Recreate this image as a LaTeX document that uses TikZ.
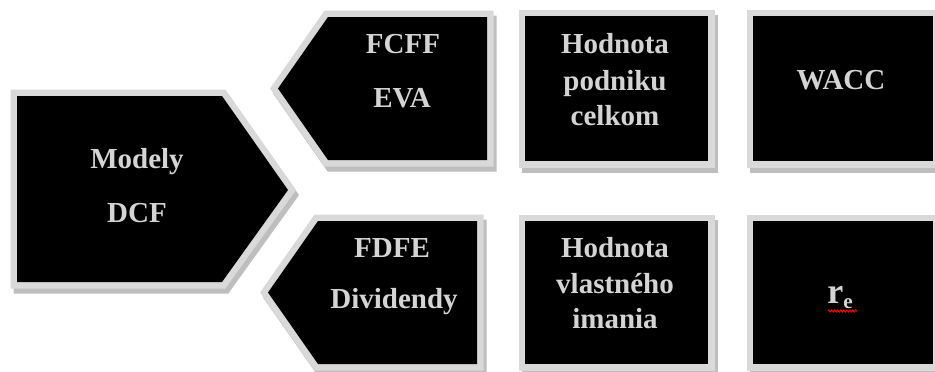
\documentclass[tikz,border=0pt]{standalone}
\usepackage{fontspec}
\setmainfont{Liberation Serif}
\usetikzlibrary{decorations.pathmorphing}
\definecolor{bord}{HTML}{D9D9D9}
\definecolor{shad}{HTML}{BEBEBE}
\definecolor{txt}{HTML}{D4D4D4}
\newcommand\drawbox[1]{%
  \draw[shadowline,shift={(3,5)}] #1;
  \draw[borderline] #1;
  \fill[black] #1;}
\begin{document}
\begin{tikzpicture}[x=1pt,y=-1pt,
  lbl/.style={text=txt, font=\fontsize{29}{29}\selectfont\bfseries, anchor=base, inner sep=0pt},
  shadowline/.style={draw=shad, fill=shad, line width=13pt, line join=miter},
  borderline/.style={draw=bord, fill=bord, line width=13pt, line join=miter}]
\useasboundingbox (0,0) rectangle (935,372);
\clip (0,0) rectangle (935,372);
\fill[white] (0,0) rectangle (935,372);
% shapes
\drawbox{(17,96) -- (222,96) -- (288,190) -- (222,282) -- (17,282) -- cycle}
\drawbox{(278,88.5) -- (328,17) -- (487,17) -- (487,160) -- (328,160) -- cycle}
\drawbox{(268,292.5) -- (318,221) -- (477,221) -- (477,364) -- (318,364) -- cycle}
\drawbox{(525,16) rectangle (708,161)}
\drawbox{(753,16) rectangle (933,161)}
\drawbox{(525,221) rectangle (708,364)}
\drawbox{(753,221) rectangle (933,364)}
% texts
\node[lbl] (m1) at (137,168) {Modely};
\node[lbl] (m2) at (137,222) {DCF};
\node[lbl] (f1) at (403,53) {FCFF};
\node[lbl] (f2) at (402,107) {EVA};
\node[lbl] (d1) at (392,257) {FDFE};
\node[lbl] (d2) at (394,308) {Dividendy};
\node[lbl] (h1) at (615,53) {Hodnota};
\node[lbl] (h2) at (615,90) {podniku};
\node[lbl] (h3) at (615,125) {celkom};
\node[lbl] (w1) at (841,89) {WACC};
\node[lbl] (v1) at (615,257) {Hodnota};
\node[lbl] (v2) at (615,293) {vlastného};
\node[lbl] (v3) at (615,328) {imania};
\node[lbl, font=\fontsize{36}{36}\selectfont\bfseries] (re) at (840,303)
  {r\raisebox{-5pt}{\fontsize{21}{21}\selectfont\bfseries e}};
\coordinate (sqa) at (828,311);
\coordinate (sqb) at (857,311);
\draw[red, line width=1pt, decorate, decoration={zigzag, segment length=3pt, amplitude=1pt}] (sqa) -- (sqb);
\end{tikzpicture}
\end{document}
